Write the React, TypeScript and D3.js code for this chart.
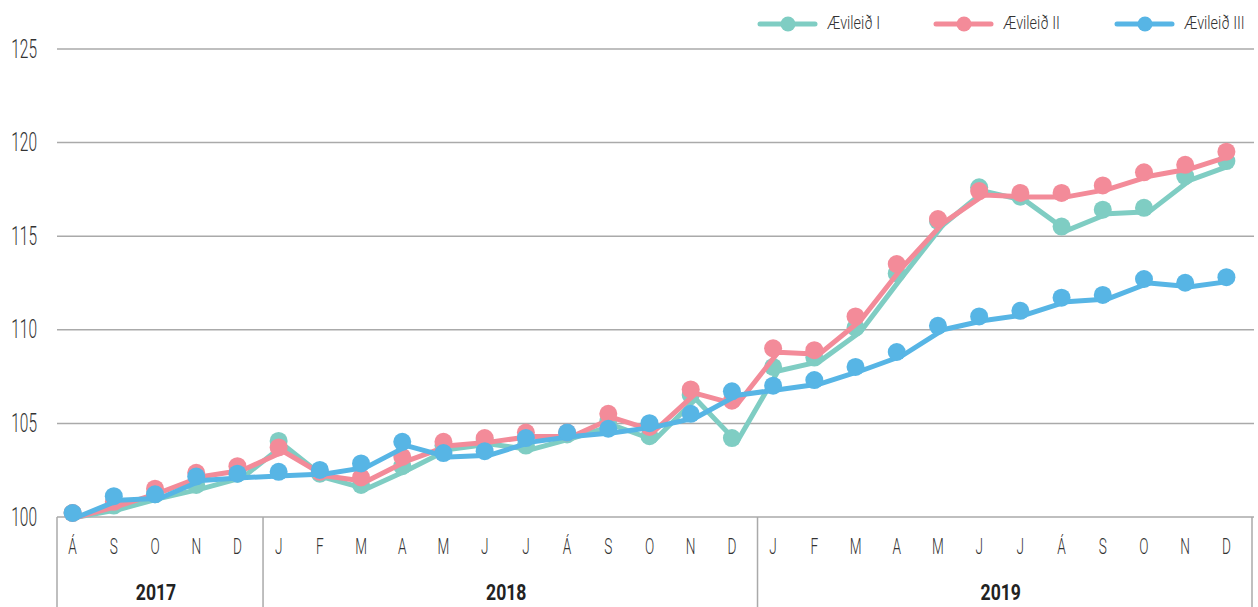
import React, { useEffect, useRef } from 'react';
import * as d3 from 'd3';

// month labels (Aug 2017 - Dec 2019)
const months = ['Á', 'S', 'O', 'N', 'D',
  'J', 'F', 'M', 'A', 'M', 'J', 'J', 'Á', 'S', 'O', 'N', 'D',
  'J', 'F', 'M', 'A', 'M', 'J', 'J', 'Á', 'S', 'O', 'N', 'D'];
const years = ['2017', '2018', '2019'];
const yearCounts = [5, 12, 12];
const yTicks = [100, 105, 110, 115, 120, 125];

const seriesNames = ['Ævileið I', 'Ævileið II', 'Ævileið III'];
const leid1 = [100, 100.4, 101.0, 101.5, 102.1, 103.85, 102.1, 101.5, 102.5, 103.6, 103.9, 103.6, 104.2, 104.9, 104.1,
  106.3, 104.0, 107.8, 108.3, 109.9, 112.8, 115.6, 117.4, 116.9, 115.3, 116.2, 116.3, 118.0, 118.8];
const leid2 = [100, 100.6, 101.3, 102.15, 102.5, 103.5, 102.2, 101.9, 103.0, 103.8, 104.0, 104.3, 104.3, 105.3, 104.6,
  106.6, 106.0, 108.8, 108.7, 110.5, 113.3, 115.7, 117.2, 117.1, 117.1, 117.5, 118.2, 118.6, 119.3];
const leid3 = [100, 100.9, 101.0, 101.95, 102.1, 102.2, 102.3, 102.65, 103.8, 103.2, 103.3, 104.0, 104.3, 104.5, 104.8,
  105.3, 106.5, 106.8, 107.1, 107.8, 108.6, 110.0, 110.5, 110.8, 111.5, 111.65, 112.5, 112.3, 112.6];

const colors = ['#7fcdc3', '#f38b99', '#57b5e5'];
const FONT = 'Roboto, "Liberation Sans", Arial, sans-serif';

export default function App() {
  const ref = useRef<SVGSVGElement>(null);

  useEffect(() => {
    document.body.style.margin = '0';
    const svg = d3.select(ref.current);
    svg.selectAll('*').remove();

    const left = 57, right = 1252, top = 49, bottom = 517;
    const x = d3.scaleBand<number>().domain(d3.range(months.length)).range([left, right]);
    const y = d3.scaleLinear().domain([100, 125]).range([bottom, top]);
    const cx = (i: number) => (x(i) as number) + x.bandwidth() / 2;

    // squeezed text helper (condensed look)
    const label = (g: any, tx: number, ty: number, txt: string, size: number, sx: number, anchor: string, weight: any = 300, fill = '#333') =>
      g.append('text')
        .attr('transform', 'translate(' + tx + ',' + ty + ') scale(' + sx + ',1)')
        .attr('text-anchor', anchor)
        .attr('dominant-baseline', 'middle')
        .attr('font-family', FONT)
        .attr('font-size', size)
        .attr('font-weight', weight)
        .attr('fill', fill)
        .text(txt);

    // gridlines + y labels
    const grid = svg.append('g');
    yTicks.forEach(t => {
      grid.append('line')
        .attr('x1', left).attr('x2', 1254)
        .attr('y1', y(t)).attr('y2', y(t))
        .attr('stroke', '#aaa').attr('stroke-width', 1.5);
      label(grid, 37, y(t) + 2, String(t), 25, 0.62, 'end');
    });

    // x axis box with year separators
    const starts = yearCounts.map((c, i) => d3.sum(yearCounts.slice(0, i)));
    const edges = starts.map(s => x(s) as number).concat([right]);
    edges.forEach(ex => {
      grid.append('line')
        .attr('x1', ex).attr('x2', ex)
        .attr('y1', bottom).attr('y2', 607)
        .attr('stroke', '#aaa').attr('stroke-width', 1.5);
    });
    months.forEach((m, i) => label(grid, cx(i) - 5, 548, m, 22, 0.62, 'middle'));
    years.forEach((yr, i) => label(grid, (edges[i] + edges[i + 1]) / 2 - 4, 594, yr, 22, 0.8, 'middle', 'bold', '#222'));

    // series
    const data = [leid1, leid2, leid3];
    const line = d3.line<number>().x((d, i) => cx(i)).y(d => y(d));
    data.forEach((vals, k) => {
      const g = svg.append('g');
      g.append('path')
        .attr('d', line(vals))
        .attr('fill', 'none')
        .attr('stroke', colors[k])
        .attr('stroke-width', 5)
        .attr('stroke-linejoin', 'round');
      g.append('g').attr('transform', 'translate(-5,-4)')
        .selectAll('circle')
        .data(vals)
        .enter()
        .append('circle')
        .attr('cx', (d, i) => cx(i))
        .attr('cy', d => y(d))
        .attr('r', 9)
        .attr('fill', colors[k]);
    });

    // legend
    const legendX = [760, 936, 1117];
    const legend = svg.append('g');
    seriesNames.forEach((n, k) => {
      const lx = legendX[k];
      legend.append('line')
        .attr('x1', lx).attr('x2', lx + 55)
        .attr('y1', 24).attr('y2', 24)
        .attr('stroke', colors[k]).attr('stroke-width', 5)
        .attr('stroke-linecap', 'round');
      legend.append('circle')
        .attr('cx', lx + 28).attr('cy', 24).attr('r', 7.5)
        .attr('fill', colors[k]);
      label(legend, lx + 67, 24, n, 19, 0.76, 'start');
    });
  }, []);

  return <svg ref={ref} width={1258} height={607} style={{ display: 'block', background: '#fff' }} />;
}
